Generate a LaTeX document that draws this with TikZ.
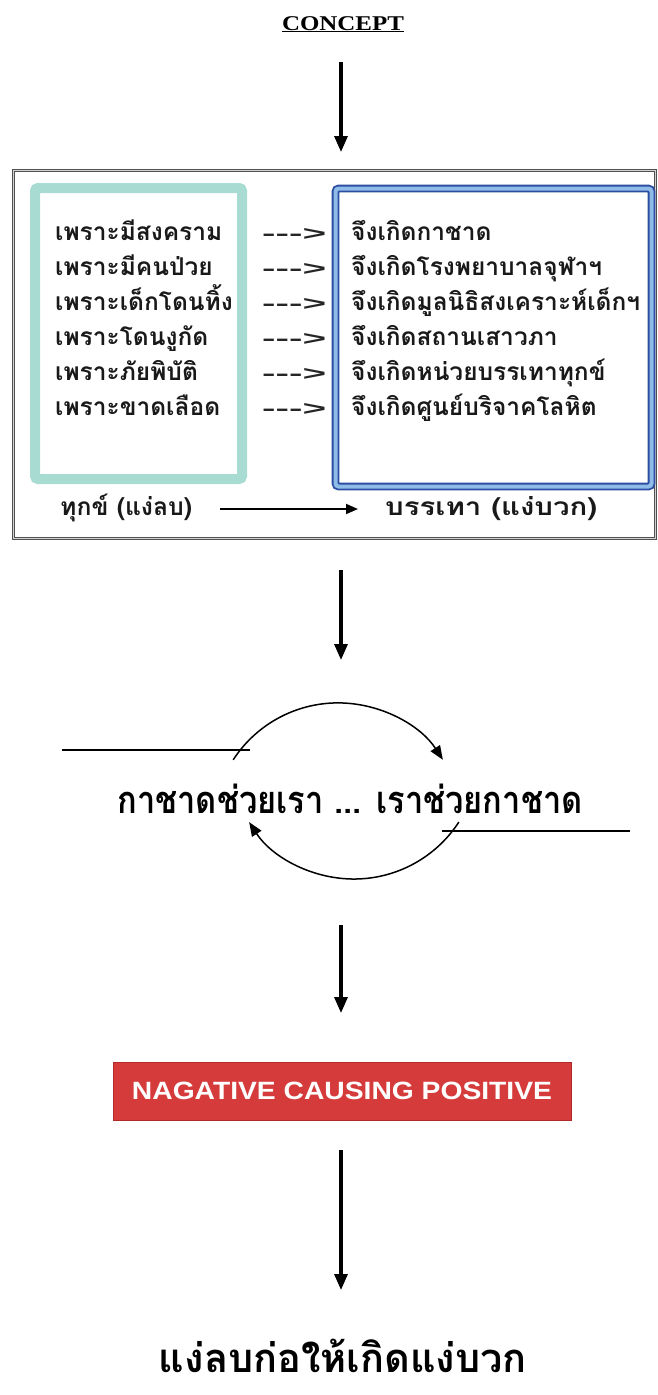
\documentclass[tikz,border=0pt]{standalone}
\usepackage{fontspec}
\setmainfont{Liberation Serif}
\newfontfamily\thai[Script=Thai]{Loma}
\newfontfamily\lsans{Liberation Sans}
\usetikzlibrary{arrows.meta}
\definecolor{tealb}{HTML}{A8DCD2}
\definecolor{bdark}{HTML}{2B4EA2}
\definecolor{blight}{HTML}{8FBBE9}
\definecolor{redbox}{HTML}{D63B3B}
\definecolor{rededge}{HTML}{B02A2A}
\definecolor{framegray}{HTML}{505050}
\newcommand{\fitw}[2]{\resizebox{#1}{\height}{#2}}
\tikzset{
  bigarrow/.style={line width=3.2pt,-{Triangle[length=16pt,width=13pt]}},
  cyclearrow/.style={line width=1.5pt,-{Triangle[length=14pt,width=11pt]}},
  thinline/.style={line width=1.5pt},
  rowtxt/.style={anchor=base west,inner sep=0pt,font=\thai\bfseries\fontsize{24.5}{25}\selectfont,text=black!90},
  dashtxt/.style={anchor=base west,inner sep=0pt,font=\lsans\bfseries\fontsize{20}{20}\selectfont,text=black!85},
  bigthai/.style={anchor=base,inner sep=0pt,font=\thai\bfseries\fontsize{38}{38}\selectfont},
}
\begin{document}
\begin{tikzpicture}[x=1pt,y=-1pt]
\useasboundingbox (0,0) rectangle (657,1395);
% title
\node[anchor=base,inner sep=0pt,font=\bfseries\fontsize{21}{21}\selectfont] (concept) at (343,30) {\fitw{122pt}{\underline{CONCEPT}}};
% outer frame
\node[draw=framegray,double=gray!35,double distance=0.8pt,line width=1.2pt,minimum width=642pt,minimum height=368pt,inner sep=0pt] (outer) at (334.5,354.5) {};
% teal box
\node[draw=tealb,line width=10pt,rounded corners=3pt,minimum width=207pt,minimum height=291pt,inner sep=0pt] (negbox) at (138.5,333.5) {};
% blue box
\node[draw=bdark,double=blight,double distance=4pt,line width=1.8pt,rounded corners=3pt,minimum width=316pt,minimum height=298pt,inner sep=0pt] (posbox) at (493.5,337.5) {};
% rows
\foreach \i/\l/\r in {0/เพราะมีสงคราม/จึงเกิดกาชาด,
                       1/เพราะมีคนป่วย/จึงเกิดโรงพยาบาลจุฬาฯ,
                       2/เพราะเด็กโดนทิ้ง/จึงเกิดมูลนิธิสงเคราะห์เด็กฯ,
                       3/เพราะโดนงูกัด/จึงเกิดสถานเสาวภา,
                       4/เพราะภัยพิบัติ/จึงเกิดหน่วยบรรเทาทุกข์,
                       5/เพราะขาดเลือด/จึงเกิดศูนย์บริจาคโลหิต}{
  \node[rowtxt] (l\i) at (55,240+35*\i) {\l};
  \node[dashtxt] (d\i) at (262,240+35*\i) {\fitw{64pt}{-{}-{}->}};
  \node[rowtxt] (r\i) at (351,240+35*\i) {\r};
}
% bottom row
\node[rowtxt] (neg) at (60,515) {\fitw{132pt}{ทุกข์ (แง่ลบ)}};
\node[rowtxt] (pos) at (385,515) {\fitw{212pt}{บรรเทา (แง่บวก)}};
\coordinate (na) at (220,509); \coordinate (nb) at (358,509);
\draw[line width=1.8pt,-{Triangle[length=12pt,width=10pt]}] (na) -- (nb);
% arrows
\coordinate (a1s) at (341,62);  \coordinate (a1e) at (341,152);
\draw[bigarrow] (a1s) -- (a1e);
\coordinate (a2s) at (341,570); \coordinate (a2e) at (341,660);
\draw[bigarrow] (a2s) -- (a2e);
% cycle
\node[bigthai] (cycle) at (350,813) {\fitw{465pt}{กาชาดช่วยเรา ... เราช่วยกาชาด}};
\coordinate (ll) at (62,750); \coordinate (lr) at (250,750);
\draw[thinline] (ll) -- (lr);
\coordinate (rl) at (442,831); \coordinate (rr) at (630,831);
\draw[thinline] (rl) -- (rr);
\coordinate (up0) at (233.2,759.8);
\draw[cyclearrow] (up0) arc[start angle=213,end angle=327,radius=125] coordinate (up1);
\coordinate (lo0) at (458.8,822.1);
\draw[cyclearrow] (lo0) arc[start angle=33,end angle=147,radius=125] coordinate (lo1);
\coordinate (a3s) at (341,925); \coordinate (a3e) at (341,1013);
\draw[bigarrow] (a3s) -- (a3e);
% red box
\node[fill=redbox,draw=rededge,line width=1pt,minimum width=458pt,minimum height=58pt,inner sep=0pt,
      font=\lsans\bfseries\fontsize{25}{25}\selectfont,text=white] (ncp) at (342,1091) {\fitw{420pt}{NAGATIVE CAUSING POSITIVE}};
\coordinate (a4s) at (341,1150); \coordinate (a4e) at (341,1290);
\draw[bigarrow] (a4s) -- (a4e);
\node[bigthai,font=\thai\bfseries\fontsize{40}{40}\selectfont] (final) at (343,1372) {\fitw{368pt}{แง่ลบก่อให้เกิดแง่บวก}};
\end{tikzpicture}
\end{document}
